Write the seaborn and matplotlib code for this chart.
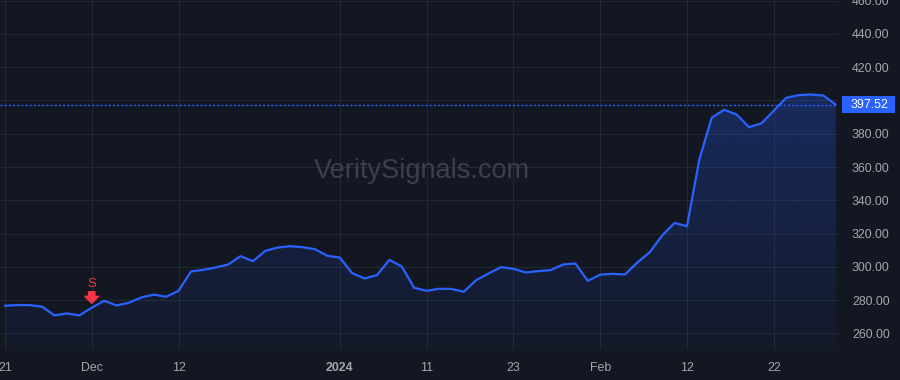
import numpy as np
import pandas as pd
import matplotlib
matplotlib.use("Agg")
import matplotlib.pyplot as plt
import seaborn as sns
from matplotlib.patches import Rectangle, Polygon
from matplotlib.colors import to_rgb

# ---------------- data ----------------
dates = [
    "2023-11-21", "2023-11-22", "2023-11-24", "2023-11-27", "2023-11-28", "2023-11-29", "2023-11-30",
    "2023-12-01", "2023-12-04", "2023-12-05", "2023-12-06", "2023-12-07", "2023-12-08", "2023-12-11",
    "2023-12-12", "2023-12-13", "2023-12-14", "2023-12-15", "2023-12-18", "2023-12-19", "2023-12-20",
    "2023-12-21", "2023-12-22", "2023-12-26", "2023-12-27", "2023-12-28", "2023-12-29", "2024-01-02",
    "2024-01-03", "2024-01-04", "2024-01-05", "2024-01-08", "2024-01-09", "2024-01-10", "2024-01-11",
    "2024-01-12", "2024-01-16", "2024-01-17", "2024-01-18", "2024-01-19", "2024-01-22", "2024-01-23",
    "2024-01-24", "2024-01-25", "2024-01-26", "2024-01-29", "2024-01-30", "2024-01-31", "2024-02-01",
    "2024-02-02", "2024-02-05", "2024-02-06", "2024-02-07", "2024-02-08", "2024-02-09", "2024-02-12",
    "2024-02-13", "2024-02-14", "2024-02-15", "2024-02-16", "2024-02-20", "2024-02-21", "2024-02-22",
    "2024-02-23", "2024-02-26", "2024-02-27", "2024-02-28", "2024-02-29",
]
close = [
    276.6, 277.0, 277.0, 276.0, 270.8, 272.0, 270.8,
    275.4, 279.6, 276.8, 278.4, 281.6, 283.3, 282.0,
    285.6, 297.2, 298.2, 299.6, 301.4, 306.4, 303.4,
    309.6, 311.6, 312.4, 311.8, 310.6, 306.6, 305.6,
    296.2, 293.0, 295.0, 304.2, 300.2, 287.4, 285.6,
    286.8, 286.7, 285.0, 292.0, 296.0, 299.8, 298.8,
    296.6, 297.4, 298.0, 301.4, 302.0, 291.6, 295.3,
    295.8, 295.4, 302.6, 308.8, 318.8, 326.4, 324.4,
    364.6, 389.7, 394.4, 391.6, 384.0, 386.2, 393.8,
    401.6, 403.2, 403.6, 403.0, 397.52,
]
tick_dates = ["2023-11-21", "2023-12-01", "2023-12-12", "2024-01-02", "2024-01-11",
              "2024-01-23", "2024-02-01", "2024-02-12", "2024-02-22"]
tick_labels = ["21", "Dec", "12", "2024", "11", "23", "Feb", "12", "22"]
y_ticks = [260, 280, 300, 320, 340, 360, 380, 400, 420, 440, 460]
signal_date = "2023-12-01"
signal_label = "S"
last_price = close[-1]
watermark = "VeritySignals.com"

# ---------------- style ----------------
BG = "#131722"
GRID = "#242833"
TXT = "#a3a6af"
BLUE = "#2962ff"
RED = "#f23645"
FONT = ["Liberation Sans", "DejaVu Sans"]

sns.set_theme(style="dark")
plt.rcParams["font.family"] = FONT

df = pd.DataFrame({"date": dates, "close": close})
df["pos"] = np.arange(len(df))

W, H = 900, 380
fig = plt.figure(figsize=(W / 100, H / 100), dpi=100, facecolor=BG)
pane_w, pane_h = 838, 350
ax = fig.add_axes([0, (H - pane_h) / H, pane_w / W, pane_h / H])
ax.set_facecolor(BG)

xmin, xmax = -0.40, 67.18
ymin, ymax = 250.0, 460.4
ax.set_xlim(xmin, xmax)
ax.set_ylim(ymin, ymax)

# grid
tick_pos = [dates.index(d) for d in tick_dates]
for p in tick_pos:
    ax.axvline(p, color=GRID, lw=0.8, zorder=0)
for yv in y_ticks:
    ax.axhline(yv, color=GRID, lw=0.8, zorder=0)

# watermark
ax.text(0.503, 0.51, watermark, transform=ax.transAxes, ha="center", va="center",
        fontsize=19.5, color="#3c404c", zorder=0.5)

# gradient area fill
rgb = np.array(to_rgb(BLUE))
n = 256
alphas = np.linspace(0.27, 0.03, n)
img = np.zeros((n, 1, 4))
img[:, 0, :3] = rgb
img[:, 0, 3] = alphas
top = max(close)
im = ax.imshow(img, extent=[df["pos"].iloc[0], df["pos"].iloc[-1], ymin, top],
               aspect="auto", origin="upper", zorder=1, interpolation="bilinear")
verts = [(df["pos"].iloc[0], ymin)] + list(zip(df["pos"], df["close"])) + [(df["pos"].iloc[-1], ymin)]
poly = Polygon(verts, closed=True, facecolor="none", edgecolor="none")
ax.add_patch(poly)
im.set_clip_path(poly)
ax.set_xlim(xmin, xmax)
ax.set_ylim(ymin, ymax)

# line
sns.lineplot(data=df, x="pos", y="close", ax=ax, color=BLUE, linewidth=1.6, zorder=3)

# last price dotted line
ax.axhline(last_price, color=BLUE, lw=1.0, ls=(0, (1.5, 1.5)), zorder=2)

# axes cosmetics
for s in ax.spines.values():
    s.set_visible(False)
ax.grid(False)
ax.set_xlabel("")
ax.set_ylabel("")
ax.set_xticks(tick_pos)
ax.set_xticklabels(tick_labels)
ax.set_yticks(y_ticks)
ax.set_yticklabels([f"{v:.2f}" for v in y_ticks])
ax.yaxis.tick_right()
ax.tick_params(axis="y", length=0, pad=10, labelsize=8.9, labelcolor=TXT)
ax.tick_params(axis="x", length=0, pad=8.5, labelsize=8.9, labelcolor=TXT)
for lab in ax.get_xticklabels():
    if lab.get_text() == "2024":
        lab.set_fontweight("bold")

# price label box
fig.canvas.draw()
py = ax.transData.transform((0, last_price))[1]
bx0, bx1, bh = 842, 895, 17
fig.add_artist(Rectangle((bx0 / W, (py - bh / 2) / H), (bx1 - bx0) / W, bh / H,
                         transform=fig.transFigure, facecolor=BLUE, edgecolor="none", zorder=10))
fig.text((bx0 + bx1) / 2 / W + 0.0015, py / H, f"{last_price:.2f}", ha="center", va="center",
         color="white", fontsize=8.9, zorder=11)

# sell signal marker
si = dates.index(signal_date)
sx, sy = ax.transData.transform((si, close[si]))
ax.annotate("", xy=(sx, sy + 4.5), xycoords="figure pixels",
            xytext=(sx, sy + 16), textcoords="figure pixels",
            arrowprops=dict(arrowstyle="simple,head_length=0.5,head_width=1.0,tail_width=0.45",
                            color=RED, shrinkA=0, shrinkB=0, mutation_scale=10), zorder=5)
ax.annotate(signal_label, xy=(sx, sy + 24), xycoords="figure pixels", ha="center", va="center",
            color=RED, fontsize=9.5, zorder=5)

fig.savefig("out.png", dpi=100, facecolor=BG)
